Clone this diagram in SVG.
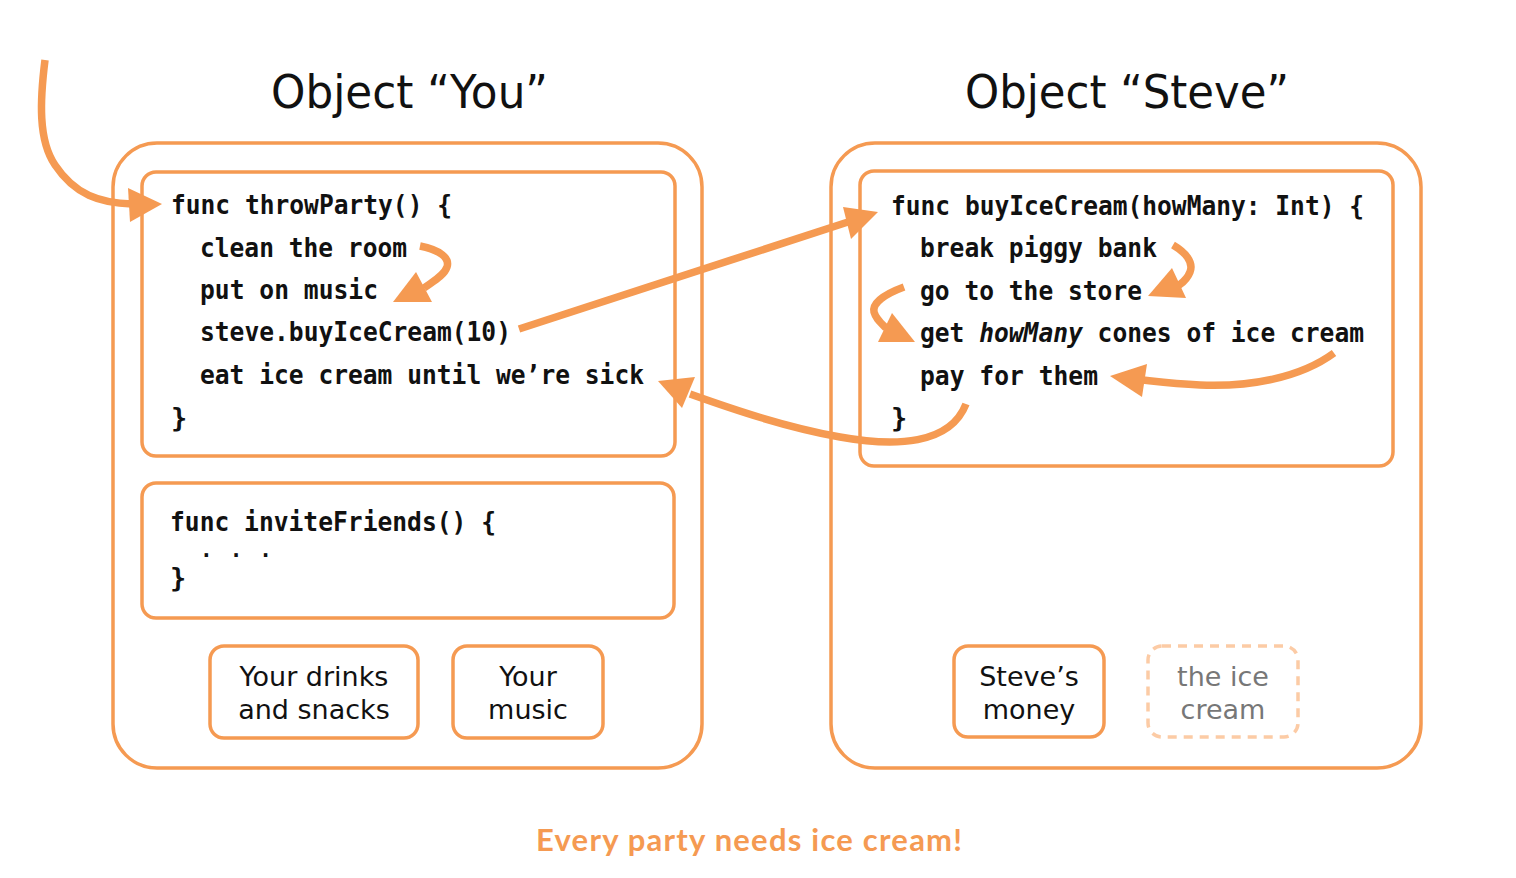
<svg xmlns="http://www.w3.org/2000/svg" width="1516" height="878" viewBox="0 0 1516 878">
<defs>
<style>
.box{fill:none;stroke:#F59A52;stroke-width:3.5}
.dash{fill:none;stroke:#FCCBA5;stroke-width:3.5;stroke-dasharray:9 7}
.code{font-family:"DejaVu Sans Mono","Liberation Mono",monospace;font-weight:bold;font-size:27px;fill:#111}
.title{font-family:"DejaVu Sans","Liberation Sans",sans-serif;font-size:46px;fill:#111}
.lbl{font-family:"DejaVu Sans","Liberation Sans",sans-serif;font-size:27px;fill:#111;text-anchor:middle}
.cap{font-family:Lato,"DejaVu Sans",sans-serif;font-weight:bold;font-size:31px;fill:#F59A52}
.arr{fill:none;stroke:#F59A52;stroke-width:7.5}
.head{fill:#F59A52}
</style>
</defs>
<rect width="1516" height="878" fill="#fff"/>
<text class="title" x="271" y="108" textLength="277" lengthAdjust="spacingAndGlyphs">Object “You”</text>
<text class="title" x="965" y="108" textLength="324" lengthAdjust="spacingAndGlyphs">Object “Steve”</text>

<g id="objYou">
<rect class="box" x="113" y="143" width="589" height="625" rx="44"/>
</g>
<g id="throwParty">
<rect class="box" x="142" y="172" width="533" height="284" rx="14"/>
<text class="code" x="171" y="214" textLength="281" lengthAdjust="spacingAndGlyphs">func throwParty() {</text>
<text class="code" x="200" y="257" textLength="207" lengthAdjust="spacingAndGlyphs">clean the room</text>
<text class="code" x="200" y="299" textLength="178" lengthAdjust="spacingAndGlyphs">put on music</text>
<text class="code" x="200" y="341" textLength="311" lengthAdjust="spacingAndGlyphs">steve.buyIceCream(10)</text>
<text class="code" x="200" y="384" textLength="444" lengthAdjust="spacingAndGlyphs">eat ice cream until we’re sick</text>
<text class="code" x="171" y="427">}</text>
</g>
<g id="inviteFriends">
<rect class="box" x="142" y="483" width="532" height="135" rx="14"/>
<text class="code" x="170" y="531" textLength="326" lengthAdjust="spacingAndGlyphs">func inviteFriends() {</text>
<text class="code" x="200" y="557" style="font-size:21px" textLength="72" lengthAdjust="spacing">. . .</text>
<text class="code" x="170" y="587">}</text>
</g>
<g id="drinks">
<rect class="box" x="210" y="646" width="208" height="92" rx="14"/>
<text class="lbl" x="314" y="686">Your drinks</text>
<text class="lbl" x="314" y="719">and snacks</text>
</g>
<g id="music">
<rect class="box" x="453" y="646" width="150" height="92" rx="14"/>
<text class="lbl" x="528" y="686">Your</text>
<text class="lbl" x="528" y="719">music</text>
</g>

<g id="objSteve">
<rect class="box" x="831" y="143" width="590" height="625" rx="44"/>
</g>
<g id="buyIceCream">
<rect class="box" x="860" y="171" width="533" height="295" rx="14"/>
<text class="code" x="891" y="215" textLength="473" lengthAdjust="spacingAndGlyphs">func buyIceCream(howMany: Int) {</text>
<text class="code" x="920" y="257" textLength="237" lengthAdjust="spacingAndGlyphs">break piggy bank</text>
<text class="code" x="920" y="300" textLength="222" lengthAdjust="spacingAndGlyphs">go to the store</text>
<text class="code" x="920" y="342" textLength="444" lengthAdjust="spacingAndGlyphs">get <tspan font-style="italic">howMany</tspan> cones of ice cream</text>
<text class="code" x="920" y="385" textLength="178" lengthAdjust="spacingAndGlyphs">pay for them</text>
<text class="code" x="891" y="427">}</text>
</g>
<g id="money">
<rect class="box" x="954" y="646" width="150" height="91" rx="14"/>
<text class="lbl" x="1029" y="686">Steve’s</text>
<text class="lbl" x="1029" y="719">money</text>
</g>
<g id="iceCream">
<rect class="dash" x="1148" y="646" width="150" height="91" rx="14"/>
<text class="lbl" x="1223" y="686" style="fill:#777">the ice</text>
<text class="lbl" x="1223" y="719" style="fill:#777">cream</text>
</g>

<g id="connectors">
<path class="arr" d="M45,60 C40,100 38,140 55,165 C75,195 100,203 132,204"/>
<polygon class="head" points="162,204 128,188 130,222"/>

<path class="arr" d="M420,246 C440,250 450,258 447,267 C444,276 432,282 424,288"/>
<polygon class="head" points="393,302 416,272 432,302"/>

<path class="arr" d="M519,329 L848,222"/>
<polygon class="head" points="878,212 843,207 851,239"/>

<path class="arr" d="M966,404 C950,445 895,447 840,437 C785,427 735,410 690,394"/>
<polygon class="head" points="658,381 695,377 682,408"/>

<path class="arr" d="M1173,245 C1185,252 1194,262 1190,272 C1187,280 1182,283 1178,286"/>
<polygon class="head" points="1148,296 1172,268 1186,298"/>

<path class="arr" d="M904,287 C885,294 872,303 874,312 C876,319 880,322 886,328"/>
<polygon class="head" points="915,342 892,313 878,342"/>

<path class="arr" d="M1334,353 C1300,378 1250,387 1200,385 C1175,384 1160,382 1142,380"/>
<polygon class="head" points="1110,376 1147,364 1142,397"/>
</g>

<text class="cap" x="536" y="851" textLength="426" lengthAdjust="spacing">Every party needs ice cream!</text>
</svg>
